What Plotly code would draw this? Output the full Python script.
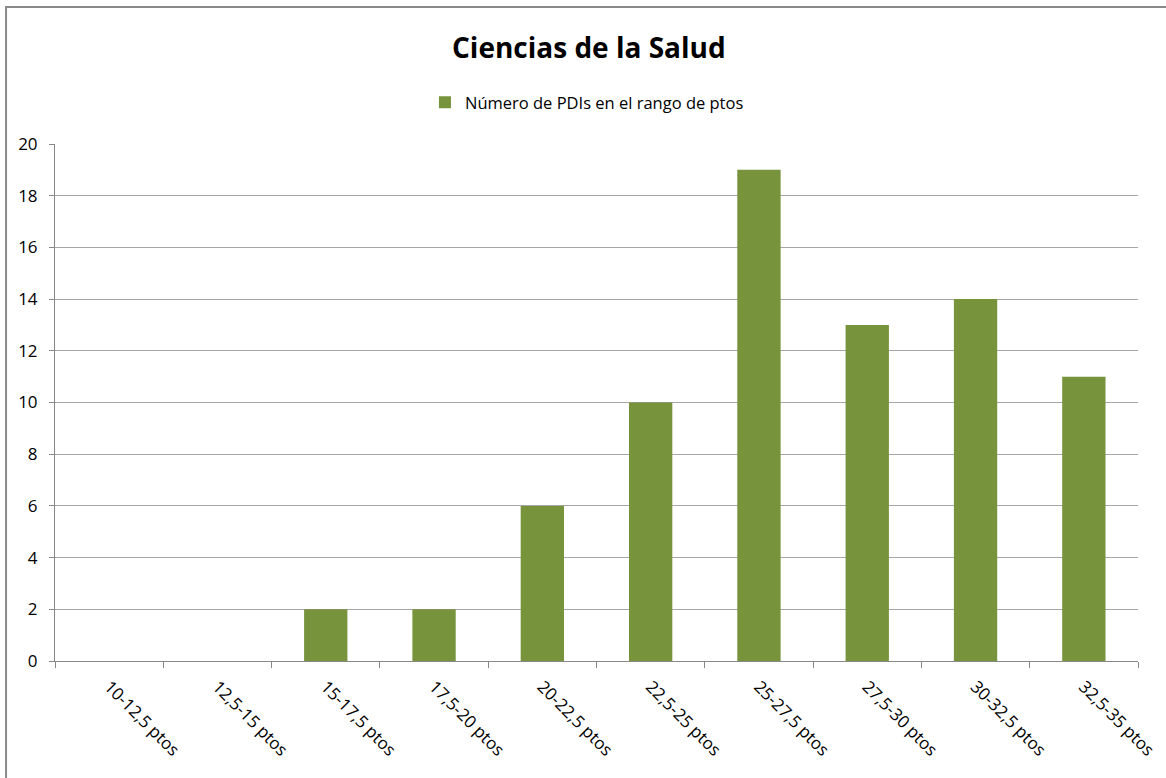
import plotly.graph_objects as go

categories = ['10-12,5 ptos', '12,5-15 ptos', '15-17,5 ptos', '17,5-20 ptos', '20-22,5 ptos',
              '22,5-25 ptos', '25-27,5 ptos', '27,5-30 ptos', '30-32,5 ptos', '32,5-35 ptos']
counts = [0, 0, 2, 2, 6, 10, 19, 13, 14, 11]
y_ticks = [0, 2, 4, 6, 8, 10, 12, 14, 16, 18, 20]

FONT = 'Open Sans, Liberation Sans, sans-serif'
GREEN = '#77933C'

fig = go.Figure(go.Bar(x=categories,
                       y=counts,
                       name='Número de PDIs en el rango de ptos',
                       marker=dict(color=GREEN, line=dict(width=0)),
                       showlegend=True))

fig.update_layout(width=1166, height=778,
                  margin={"l": 55, "r": 28, "t": 144, "b": 117},
                  plot_bgcolor='white',
                  paper_bgcolor='white',
                  bargap=0.6,
                  font=dict(family=FONT, size=17, color='#000000'),
                  title=dict(text='<b>Ciencias de la Salud</b>',
                             x=0.505, xanchor='center', y=0.938, yanchor='middle',
                             font=dict(family=FONT, size=28, color='#000000')),
                  legend=dict(orientation='h', x=0.3416, xanchor='left',
                              y=1.08, yanchor='middle',
                              font=dict(family=FONT, size=16.5),
                              itemwidth=30))

fig.update_xaxes(tickangle=45,
                 tickson='boundaries',
                 automargin=False,
                 ticks='outside', ticklen=6, tickcolor='#888888',
                 ticklabelstandoff=8,
                 showline=True, linecolor='#888888', linewidth=1,
                 showgrid=False,
                 tickfont=dict(family=FONT, size=17, color='#000000'))

fig.update_yaxes(range=[0, 20],
                 tickvals=y_ticks,
                 automargin=False,
                 ticks='outside', ticklen=5, tickcolor='#888888',
                 ticklabelstandoff=8,
                 showline=True, linecolor='#888888', linewidth=1,
                 showgrid=True, gridcolor='#a6a6a6', gridwidth=1,
                 zeroline=False,
                 tickfont=dict(family=FONT, size=17, color='#000000'))

# outer chart frame (cut by the page edge on the right and bottom)
fig.add_shape(type='rect', xref='paper', yref='paper',
              x0=-0.0452, x1=1.05, y0=-0.26, y1=1.265,
              line=dict(color='#8a8a8a', width=2), layer='below')

fig.write_html("out.html",
               config={'displayModeBar': False},
               post_script="document.body.style.margin='0';")
